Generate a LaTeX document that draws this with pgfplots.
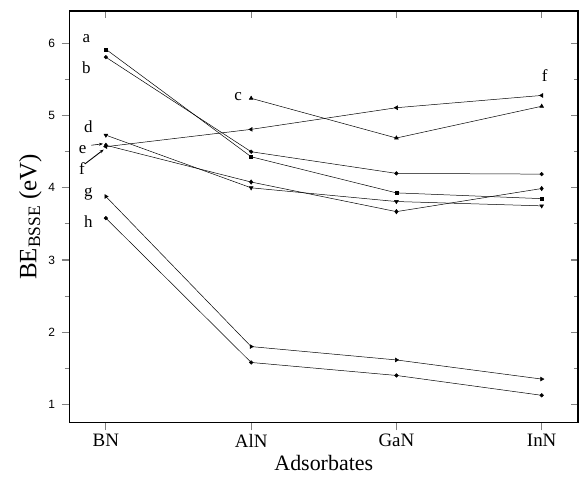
\documentclass[border=0pt]{standalone}
\usepackage{fontspec}
\setmainfont{Liberation Serif}
\newfontfamily\arial{Liberation Sans}
\usepackage{pgfplots}
\pgfplotsset{compat=1.18}
\usetikzlibrary{arrows.meta}

\begin{document}
\begin{tikzpicture}
\pgfplotsset{
  common/.style={
    scale only axis,
    width=508bp, height=411bp,
    xmin=-0.25, xmax=3.25,
    ymin=0.75, ymax=6.45,
    xtick={0,1,2,3},
    ytick={1,2,3,4,5,6},
    minor y tick num=1,
    axis line style={line width=1.3pt},
    major tick style={line width=1.1pt},
    minor tick style={line width=1.1pt},
  },
}
% right and top ticks, pointing in
\begin{axis}[common,
  tick align=inside,
  xtick pos=top, ytick pos=right,
  major tick length=7bp, minor tick length=4bp,
  xticklabels={}, yticklabels={},
]
\end{axis}
\begin{axis}[common, name=main,
  tick align=outside,
  xtick pos=bottom, ytick pos=left,
  major tick length=8bp, minor tick length=5bp,
  xticklabels={BN,AlN,GaN,InN},
  yticklabels={1,2,3,4,5,6},
  x tick label style={font=\fontsize{19}{21}\selectfont},
  y tick label style={font=\arial\fontsize{12}{14}\selectfont, xshift=-3bp},
  xlabel={Adsorbates},
  ylabel={BE\textsubscript{BSSE} (eV)},
  xlabel style={font=\fontsize{22}{24}\selectfont,
    at={(axis description cs:0.5,0)}, anchor=center, yshift=-41bp},
  ylabel style={font=\fontsize{25}{27}\selectfont,
    at={(axis description cs:-0.077,0.5)}, anchor=center},
  every axis plot/.append style={black, line width=0.5pt, mark size=1.8bp},
  clip=false,
]
% a
\addplot[mark=square*, mark size=1.5bp] coordinates {(0,5.92) (1,4.43) (2,3.93) (3,3.85)};
% b
\addplot[mark=*] coordinates {(0,5.81) (1,4.50) (2,4.20) (3,4.19)};
% c
\addplot[mark=triangle*, mark size=2.2bp] coordinates {(1,5.24) (2,4.69) (3,5.13)};
% d
\addplot[mark=triangle*, mark size=2.2bp, mark options={rotate=180}] coordinates {(0,4.73) (1,4.00) (2,3.81) (3,3.75)};
% e
\addplot[mark=diamond*, mark size=2.2bp] coordinates {(0,4.59) (1,4.08) (2,3.67) (3,3.99)};
% f
\addplot[mark=triangle*, mark size=2.2bp, mark options={rotate=90}] coordinates {(0,4.57) (1,4.81) (2,5.11) (3,5.28)};
% g
\addplot[mark=triangle*, mark size=2.2bp, mark options={rotate=-90}] coordinates {(0,3.88) (1,1.80) (2,1.615) (3,1.35)};
% h
\addplot[mark=*] coordinates {(0,3.58) (1,1.58) (2,1.40) (3,1.125)};

\begin{scope}[font=\fontsize{17}{19}\selectfont]
\node at (axis cs:-0.135,6.07) {a};
\node at (axis cs:-0.135,5.67) {b};
\node at (axis cs:0.91,5.27) {c};
\node at (axis cs:-0.12,4.84) {d};
\node at (axis cs:-0.16,4.53) {e};
\node at (axis cs:-0.165,4.27) {f};
\node at (axis cs:-0.12,3.92) {g};
\node at (axis cs:-0.12,3.53) {h};
\node at (axis cs:3.02,5.55) {f};
\end{scope}
\draw[-{Stealth[length=4bp,width=3bp]}, line width=0.6pt] (axis cs:-0.10,4.59) -- (axis cs:-0.02,4.61);
\draw[-{Stealth[length=4bp,width=3bp]}, line width=0.9pt] (axis cs:-0.145,4.33) -- (axis cs:-0.015,4.53);
\end{axis}
\pgfresetboundingbox
\path ([shift={(-69.5bp,-54bp)}]main.south west) rectangle ([shift={(1bp,11bp)}]main.north east);
\end{tikzpicture}
\end{document}
